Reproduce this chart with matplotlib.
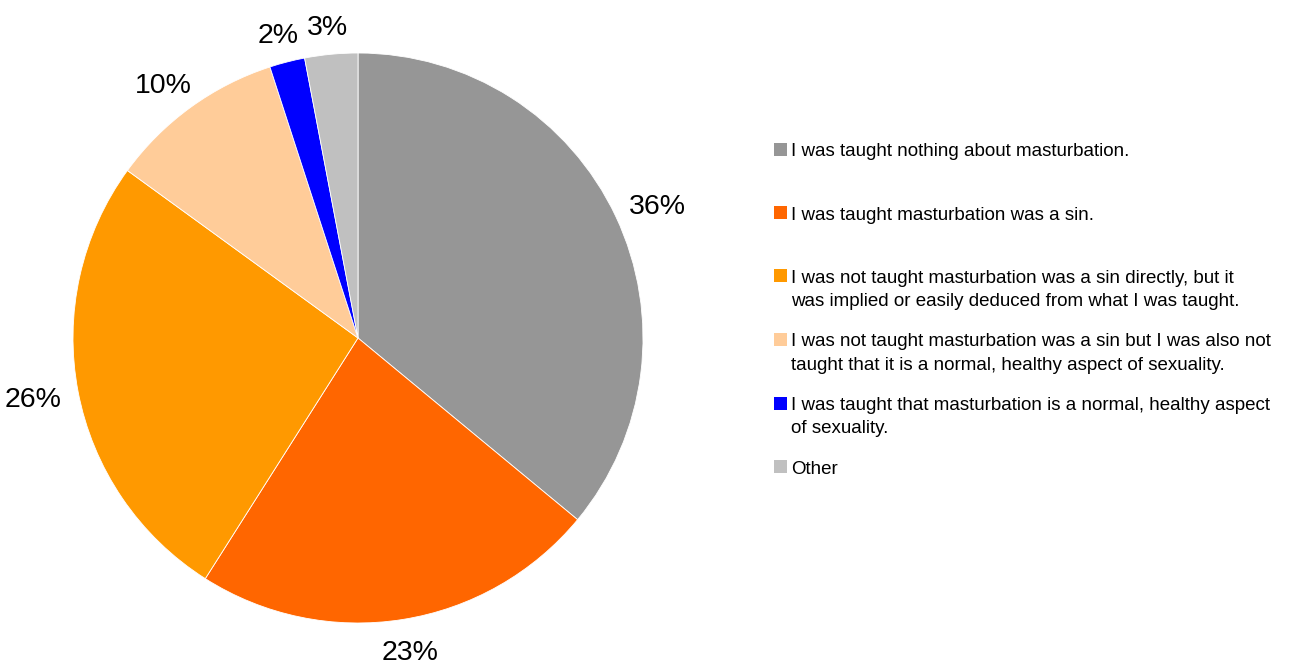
import matplotlib
matplotlib.use("Agg")
import numpy as np
import matplotlib.pyplot as plt
from matplotlib.patches import Rectangle

plt.rcParams['font.family'] = ['Liberation Sans', 'DejaVu Sans']

labels = [
    "I was taught nothing about masturbation.",
    "I was taught masturbation was a sin.",
    "I was not taught masturbation was a sin directly, but it\nwas implied or easily deduced from what I was taught.",
    "I was not taught masturbation was a sin but I was also not\ntaught that it is a normal, healthy aspect of sexuality.",
    "I was taught that masturbation is a normal, healthy aspect\nof sexuality.",
    "Other",
]
values = [36, 23, 26, 10, 2, 3]
colors = ['#969696', '#FF6600', '#FF9900', '#FFCC99', '#0000FF', '#C0C0C0']

W, H = 1305, 667
fig = plt.figure(figsize=(W / 100, H / 100), dpi=100)

# pie centre (358, 338) px, radius 285 px
cx, cy, r = 358, 338, 285
ax = fig.add_axes([(cx - r) / W, (H - cy - r) / H, 2 * r / W, 2 * r / H])
wedges, texts, autotexts = ax.pie(
    values, colors=colors, startangle=90, counterclock=False,
    autopct='%d%%', pctdistance=1.14,
    textprops={'fontsize': 20.5, 'color': 'black'},
    wedgeprops={'edgecolor': 'white', 'linewidth': 0.6})
ax.set_xlim(-1, 1)
ax.set_ylim(-1, 1)
ax.set_aspect('equal')
ax.axis('off')

# put each percentage box just outside the rim, like a spreadsheet chart
fig.canvas.draw()
rend = fig.canvas.get_renderer()
for w, t in zip(wedges, autotexts):
    th = np.deg2rad((w.theta1 + w.theta2) / 2)
    bb = t.get_window_extent(rend)
    hw = bb.width / 2 / r
    hh = bb.height / 2 / r
    r0 = 1.06
    x = r0 * np.cos(th) + hw * np.cos(th)
    y = r0 * np.sin(th) + hh * np.sin(th) - 0.012
    t.set_position((x, y))
    t.set_ha('center')
    t.set_va('center')

# legend, drawn by hand so first lines are evenly spaced
for i, (lab, col) in enumerate(zip(labels, colors)):
    y = 149 + i * 63.5
    fig.patches.append(Rectangle((774 / W, 1 - (y + 6.5) / H), 13 / W, 13 / H,
                                 transform=fig.transFigure, facecolor=col,
                                 edgecolor='none'))
    for k, line in enumerate(lab.split('\n')):
        fig.text(791 / W, 1 - (y + 7 + k * 23.3) / H, line, fontsize=13.5,
                 va='baseline', ha='left')

fig.savefig('out.png', dpi=100)
